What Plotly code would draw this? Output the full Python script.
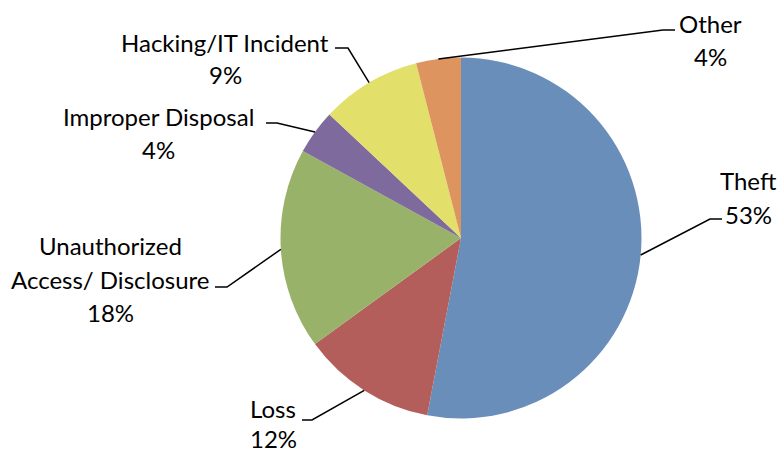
import math
import plotly.graph_objects as go

categories = ["Theft", "Loss", "Unauthorized Access/ Disclosure", "Improper Disposal",
              "Hacking/IT Incident", "Other"]
values = [53, 12, 18, 4, 9, 4]
label_lines = [["Theft", "53%"], ["Loss", "12%"], ["Unauthorized", "Access/ Disclosure", "18%"],
               ["Improper Disposal", "4%"], ["Hacking/IT Incident", "9%"], ["Other", "4%"]]
colors = ["#6A8EBA", "#B35E5B", "#99B26A", "#7F6A9E", "#E2E06A", "#DD945E"]

W, H = 778, 455
CX, CY, R = 461, 238, 180.5

# label layout (pixel positions): first-line centre, line gap, elbow point, line end
label_pos = [(748, 181), (273, 408), (110, 246), (158, 117), (225, 42), (710, 23)]
line_gaps = [33, 30, 33, 33, 33, 33]
elbows = [(710, 219), (312, 420), (227, 287), (277, 123), (348, 48), (663, 30)]
ends = [(722, 219), (302, 420), (215, 287), (266, 123), (335, 48), (675, 30)]


def px(x, y):
    return x / W, 1 - y / H


fig = go.Figure(go.Pie(
    labels=categories, values=values, sort=False, direction="clockwise",
    rotation=0, marker=dict(colors=colors, line=dict(width=0)),
    textinfo="none", hoverinfo="label+percent", showlegend=False,
    domain=dict(x=[(CX - R) / W, (CX + R) / W], y=[1 - (CY + R) / H, 1 - (CY - R) / H]),
))

total = sum(values)
cum = 0
shapes = []
annotations = []
for i, v in enumerate(values):
    mid = (cum + v / 2) / total * 2 * math.pi
    cum += v
    ax = CX + R * math.sin(mid)
    ay = CY - R * math.cos(mid)
    p0 = px(ax, ay)
    p1 = px(*elbows[i])
    p2 = px(*ends[i])
    shapes.append(dict(type="path", xref="paper", yref="paper",
                       path=f"M {p0[0]},{p0[1]} L {p1[0]},{p1[1]} L {p2[0]},{p2[1]}",
                       line=dict(color="black", width=1.5)))
    x0, y0 = label_pos[i]
    for j, line in enumerate(label_lines[i]):
        lx, ly = px(x0, y0 + j * line_gaps[i])
        annotations.append(dict(x=lx, y=ly, xref="paper", yref="paper", text=line,
                                showarrow=False, xanchor="center", yanchor="middle",
                                align="center", borderpad=0,
                                font=dict(family="Lato", size=24, color="black")))

fig.update_layout(width=W, height=H, margin=dict(l=0, r=0, t=0, b=0),
                  paper_bgcolor="white", plot_bgcolor="white",
                  shapes=shapes, annotations=annotations)
fig.write_html("out.html", config={"displayModeBar": False},
               post_script="document.body.style.margin='0';")
